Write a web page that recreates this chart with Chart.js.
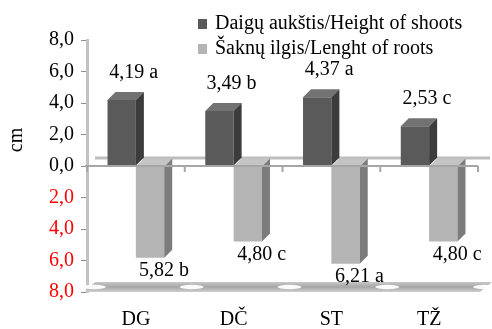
<!DOCTYPE html>
<html>
<head>
<meta charset="utf-8">
<script src="https://cdn.jsdelivr.net/npm/chart.js@4"></script>
<style>
  html, body { margin: 0; padding: 0; background: #fff; }
  #wrap { width: 492px; height: 329px; }
</style>
</head>
<body>
<div id="wrap"><canvas id="barChart"></canvas></div>
<script>
const categories = ["DG", "DČ", "ST", "TŽ"];
const heightLabel = "Daigų aukštis/Height of shoots";
const rootLabel = "Šaknų ilgis/Lenght of roots";
const heightValues = [4.19, 3.49, 4.37, 2.53];
const rootValues = [5.82, 4.80, 6.21, 4.80];
const heightLetters = ["a", "b", "a", "c"];
const rootLetters = ["b", "c", "a", "c"];
const yTicks = [8, 6, 4, 2, 0, -2, -4, -6, -8];

const serif = '"Liberation Serif", "Times New Roman", serif';
const fmt = v => Math.abs(v).toFixed(2).replace(".", ",");

// colours: front, side, top
const shades = [
    { front: "#5a5a5a", side: "#3c3c3c", top: "#727272" },
    { front: "#b4b4b4", side: "#7c7c7c", top: "#c4c4c4" }
];
const depthX = 8, depthY = 8;

// 3D look, zero plane, floor, labels and legend
const decor = {
    id: "decor",
    beforeDatasetsDraw(chart) {
        const { ctx, chartArea: a, scales: { x, y } } = chart;
        const y0 = y.getPixelForValue(0);
        ctx.save();
        // back edge of the zero plane
        ctx.strokeStyle = "#bdbdbd";
        ctx.lineWidth = 3;
        ctx.beginPath();
        ctx.moveTo(a.left + depthX, y0 - depthY);
        ctx.lineTo(a.right + depthX + 4, y0 - depthY);
        ctx.stroke();
        // floor slab at the bottom
        const yb = y.getPixelForValue(-8);
        const g = ctx.createLinearGradient(0, yb - depthY - 2, 0, yb);
        g.addColorStop(0, "#c8c8c8");
        g.addColorStop(0.5, "#a6a6a6");
        g.addColorStop(1, "#cfcfcf");
        ctx.fillStyle = g;
        ctx.beginPath();
        ctx.moveTo(a.left - 2, yb);
        ctx.lineTo(a.left - 2 + depthX + 2, yb - depthY - 2);
        ctx.lineTo(a.right + depthX + 6, yb - depthY - 2);
        ctx.lineTo(a.right + 2, yb);
        ctx.closePath();
        ctx.fill();
        const step = x.getPixelForValue(1) - x.getPixelForValue(0);
        ctx.fillStyle = "rgba(255,255,255,0.95)";
        for (let i = 0; i <= categories.length; i++) {
            const bx = x.getPixelForValue(0) - step / 2 + i * step;
            ctx.beginPath();
            ctx.ellipse(bx + 7, yb - depthY / 2 - 1, 12, 2.2, 0, 0, Math.PI * 2);
            ctx.fill();
        }
        ctx.restore();
    },
    afterDatasetsDraw(chart) {
        const { ctx, chartArea: a, scales: { x, y } } = chart;
        const y0 = y.getPixelForValue(0);
        ctx.save();
        chart.data.datasets.forEach((ds, di) => {
            const meta = chart.getDatasetMeta(di);
            const c = shades[di];
            meta.data.forEach(bar => {
                const p = bar.getProps(["x", "y", "base", "width"], true);
                const l = p.x - p.width / 2, r = p.x + p.width / 2;
                const top = Math.min(p.y, p.base), bot = Math.max(p.y, p.base);
                // top face
                ctx.fillStyle = c.top;
                ctx.beginPath();
                ctx.moveTo(l, top);
                ctx.lineTo(l + depthX, top - depthY);
                ctx.lineTo(r + depthX, top - depthY);
                ctx.lineTo(r, top);
                ctx.closePath();
                ctx.fill();
                // side face
                ctx.fillStyle = c.side;
                ctx.beginPath();
                ctx.moveTo(r, top);
                ctx.lineTo(r + depthX, top - depthY);
                ctx.lineTo(r + depthX, bot - depthY);
                ctx.lineTo(r, bot);
                ctx.closePath();
                ctx.fill();
            });
        });
        // zero axis with category separators
        ctx.strokeStyle = "#a6a6a6";
        ctx.lineWidth = 2;
        ctx.beginPath();
        ctx.moveTo(a.left - 2, y0);
        ctx.lineTo(a.right, y0);
        const step = x.getPixelForValue(1) - x.getPixelForValue(0);
        for (let i = 0; i <= categories.length; i++) {
            const bx = x.getPixelForValue(0) - step / 2 + i * step;
            ctx.moveTo(bx, y0);
            ctx.lineTo(bx, y0 + 6);
        }
        ctx.stroke();
        // value labels
        ctx.fillStyle = "#000";
        ctx.font = "20px " + serif;
        ctx.textAlign = "center";
        ctx.textBaseline = "middle";
        chart.data.datasets.forEach((ds, di) => {
            const meta = chart.getDatasetMeta(di);
            const letters = di === 0 ? heightLetters : rootLetters;
            meta.data.forEach((bar, i) => {
                const p = bar.getProps(["x", "y"], true);
                const v = ds.data[i];
                const txt = fmt(v) + " " + letters[i];
                if (v >= 0) ctx.fillText(txt, p.x + 12, p.y - 27);
                else ctx.fillText(txt, p.x + 14, p.y + 13);
            });
        });
        // y title
        ctx.save();
        ctx.translate(17, 140);
        ctx.rotate(-Math.PI / 2);
        ctx.fillText("cm", 0, 0);
        ctx.restore();
        // legend
        ctx.font = "20px " + serif;
        ctx.textAlign = "left";
        chart.data.datasets.forEach((ds, di) => {
            const cy = 24 + di * 25;
            ctx.fillStyle = shades[di].front;
            ctx.fillRect(198, cy - 5, 9, 10);
            ctx.fillStyle = "#000";
            ctx.fillText(ds.label, 215, cy);
        });
        ctx.restore();
    }
};

const ctx = document.getElementById("barChart").getContext("2d");
new Chart(ctx, {
    type: "bar",
    data: {
        labels: categories,
        datasets: [
            {
                label: heightLabel,
                data: heightValues,
                backgroundColor: shades[0].front,
                barPercentage: 1,
                categoryPercentage: 0.58
            },
            {
                label: rootLabel,
                data: rootValues.map(v => -v),
                backgroundColor: shades[1].front,
                barPercentage: 1,
                categoryPercentage: 0.58
            }
        ]
    },
    options: {
        responsive: true,
        maintainAspectRatio: false,
        animation: false,
        layout: { padding: { top: 40, right: 14, left: 0, bottom: 0 } },
        plugins: {
            legend: { display: false },
            tooltip: { enabled: false }
        },
        scales: {
            x: {
                grid: { display: false },
                border: { display: false },
                ticks: {
                    color: "#000",
                    padding: 8,
                    font: { family: serif, size: 20 }
                },
                afterFit: s => { s.height = 37; }
            },
            y: {
                min: -8,
                max: 8,
                afterBuildTicks: s => { s.ticks = yTicks.map(v => ({ value: v })); },
                grid: {
                    drawOnChartArea: false,
                    tickLength: 6,
                    color: "#8c8c8c"
                },
                border: { color: "#c2c2c2", width: 3 },
                ticks: {
                    padding: 7,
                    font: { family: serif, size: 20 },
                    color: c => c.tick.value < 0 ? "#ff0000" : "#000",
                    callback: v => Math.abs(v).toFixed(1).replace(".", ",")
                },
                afterFit: s => { s.width = 87; }
            }
        }
    },
    plugins: [decor]
});
</script>
</body>
</html>
